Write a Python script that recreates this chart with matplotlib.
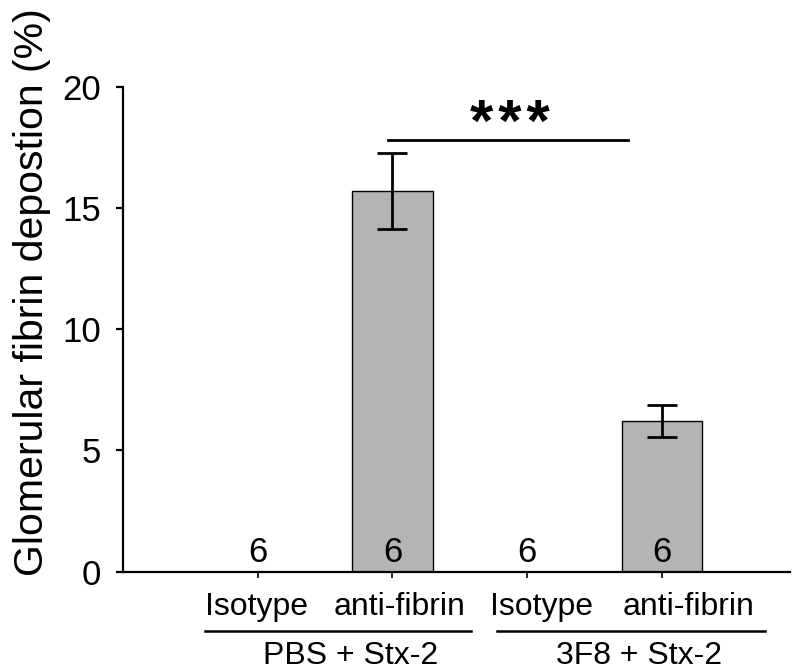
import matplotlib
matplotlib.use("Agg")
from matplotlib import pyplot as plt
from matplotlib import transforms

plt.rcParams['font.family'] = ['Liberation Sans', 'DejaVu Sans']

# data
categories = ['Isotype', 'anti-fibrin', 'Isotype', 'anti-fibrin']
means = [0.0, 15.7, 0.0, 6.22]
errors = [0.0, 1.55, 0.0, 0.65]
counts = [6, 6, 6, 6]
groups = ['PBS + Stx-2', '3F8 + Stx-2']

fig = plt.figure(figsize=(8, 6.71), dpi=100)
ax = fig.add_axes([123/800, (671-571.7)/671, (790-123)/800, 485/671])

x = list(range(len(categories)))
bar_colors = ['white' if m == 0 else '#b4b4b4' for m in means]
ax.bar(x, means, width=0.6, color=bar_colors, edgecolor='black', linewidth=1.0, zorder=2)
for xi, m, e in zip(x, means, errors):
	if m > 0:
		ax.errorbar(xi, m, yerr=e, fmt='none', ecolor='black', elinewidth=2, capsize=11, capthick=2, zorder=3)

# n labels inside bars
for xi, n in zip(x, counts):
	ax.annotate(str(n), (xi, 0), xytext=(0, 7), textcoords='offset points',
		ha='center', va='baseline', fontsize=25, zorder=4)

ax.set_xlim(-1.0, 3.95)
ax.set_ylim(0, 20)
ax.set_yticks([0, 5, 10, 15, 20])
ax.set_xticks(x)
ax.set_xticklabels([])
ax.spines['top'].set_visible(False)
ax.spines['right'].set_visible(False)
ax.spines['left'].set_linewidth(1.6)
ax.spines['bottom'].set_linewidth(1.6)
ax.tick_params(axis='y', direction='out', length=5, width=1.6, labelsize=25, pad=11)
ax.tick_params(axis='x', direction='out', length=4, width=1.2)
ax.set_ylabel('Glomerular fibrin depostion (%)', fontsize=29.5, labelpad=8)
ax.yaxis.label.set_y(0.577)

# category labels and group brackets below the axis
trans = transforms.blended_transform_factory(ax.transData, ax.transAxes)
label_x = [-0.01, 1.056, 2.104, 3.197]
for lx, lab in zip(label_x, categories):
	ax.annotate(lab, (lx, 0), xycoords=('data', 'axes fraction'), xytext=(0, -31.2),
		textcoords='offset points', ha='center', va='baseline', fontsize=23)

group_lines = [(-0.394, 1.584), (1.777, 3.762)]
group_x = [0.69, 2.83]
for (x0, x1), gx, g in zip(group_lines, group_x, groups):
	ax.plot([x0, x1], [-0.1216, -0.1216], color='black', lw=1.8, transform=trans, clip_on=False)
	ax.annotate(g, (gx, 0), xycoords=('data', 'axes fraction'), xytext=(0, -66.4),
		textcoords='offset points', ha='center', va='baseline', fontsize=23)

# significance bar
ax.plot([0.967, 2.75], [17.8, 17.8], color='black', lw=2, clip_on=False)
ax.annotate('*\u200a*\u200a*', (1.87, 17.8), xytext=(0, -9), textcoords='offset points',
	ha='center', va='bottom', fontsize=43, fontweight='bold')

fig.savefig('out.png', dpi=100)
